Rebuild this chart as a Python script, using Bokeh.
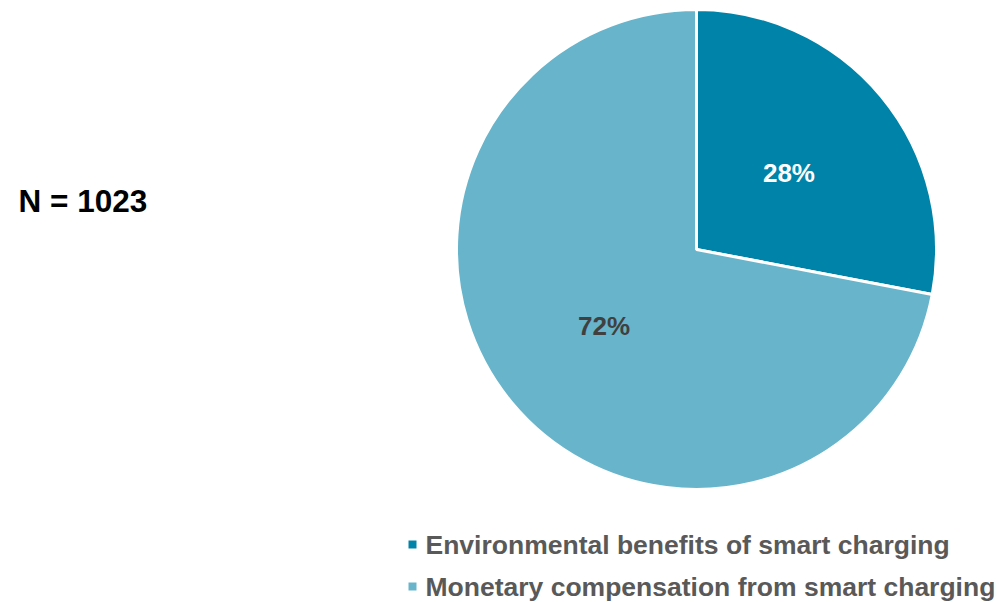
import math
from bokeh.plotting import figure
from bokeh.models import Range1d, ColumnDataSource
from bokeh.core.properties import value
from bokeh.embed import file_html
from bokeh.resources import INLINE

categories = ["Environmental benefits of smart charging", "Monetary compensation from smart charging"]
shares = [28, 72]
colors = ["#0083A9", "#67B4CB"]
label_colors = ["#FFFFFF", "#404040"]
sample_text = "N = 1023"

W, H = 999, 602
p = figure(width=W, height=H, output_backend="svg", toolbar_location=None,
           x_range=Range1d(0, W), y_range=Range1d(0, H),
           min_border=0)
p.axis.visible = False
p.grid.visible = False
p.outline_line_color = None
p.background_fill_color = "white"

cx, cy, r = 696, 602 - 249, 240
total = sum(shares)
starts, ends, lx, ly, labels = [], [], [], [], []
angle = math.pi / 2
for s in shares:
    sweep = 2 * math.pi * s / total
    # clockwise from top
    starts.append(angle - sweep)
    ends.append(angle)
    mid = angle - sweep / 2
    lx.append(cx + 0.5 * r * math.cos(mid))
    ly.append(cy + 0.5 * r * math.sin(mid))
    labels.append(f"{s}%")
    angle -= sweep

src = ColumnDataSource(dict(start=starts, end=ends, color=colors, lx=lx, ly=ly,
                            label=labels, lc=label_colors))
p.wedge(x=cx, y=cy, radius=r, start_angle="start", end_angle="end",
        fill_color="color", line_color="white", line_width=3, source=src)
p.text(x="lx", y="ly", text="label", text_color="lc", source=src,
       text_font=value("Liberation Sans"), text_font_style="bold",
       text_font_size="26px", text_align="center", text_baseline="middle")

# sample size
p.text(x=[18], y=[602 - 200], text=[sample_text], text_font=value("Liberation Sans"),
       text_font_style="bold", text_font_size="31.5px", text_color="#000000",
       text_align="left", text_baseline="middle")

# legend
leg_y = [602 - 544, 602 - 586]
p.scatter(x=[412, 412], y=leg_y, marker="square", size=8, color=colors, line_color=None)
p.text(x=[425, 425], y=leg_y, text=categories, text_font=value("Liberation Sans"),
       text_font_style="bold", text_font_size="26.5px", text_color="#595959",
       text_align="left", text_baseline="middle")

open("out.html", "w").write(file_html(p, INLINE))
